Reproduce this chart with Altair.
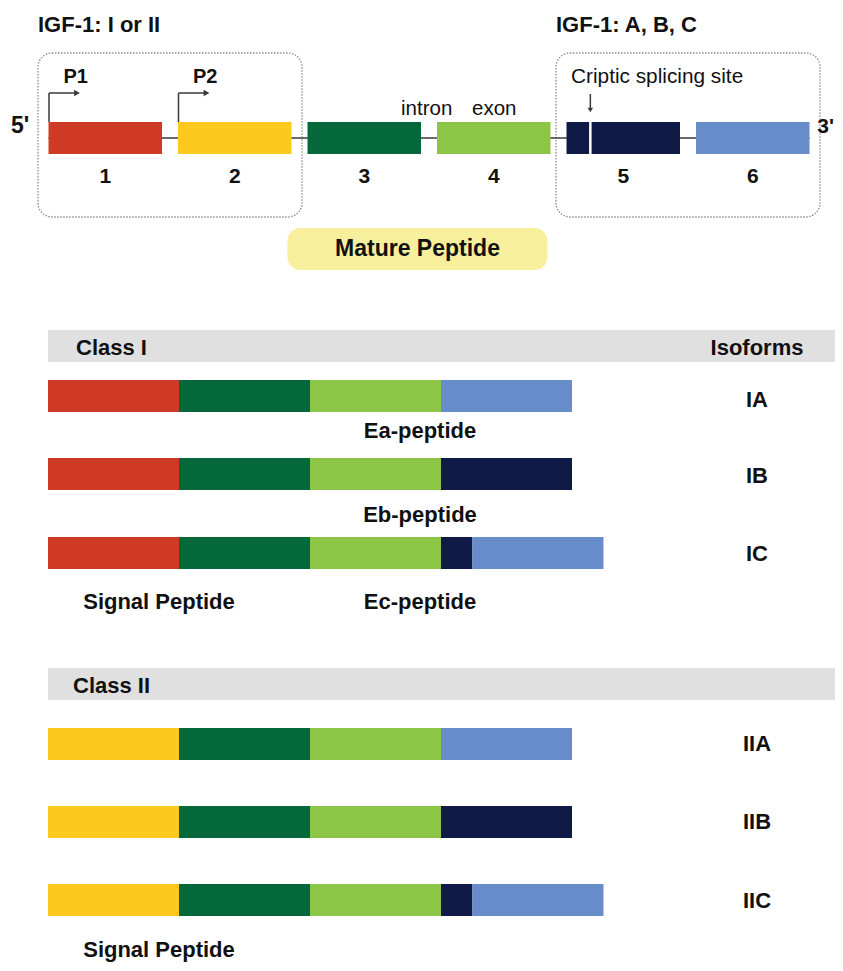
import altair as alt
import pandas as pd

# ------------------------------------------------------------------ data
exon_ids = ["1", "2", "3", "4", "5", "6"]
exon_colors = ["#CF3A27", "#FDC91E", "#05683A", "#8DC646", "#0F1A47", "#668CC9"]
exon_units = [1, 1, 1, 1, 1, 1]

group_titles = ["IGF-1: I or II", "IGF-1: A, B, C"]
group_exons = [["1", "2"], ["5", "6"]]
promoters = ["P1", "P2"]
promoter_exon = ["1", "2"]
cryptic_label = "Criptic splicing site"
cryptic_exon = "5"
cryptic_fraction = 0.21
mature_label = "Mature Peptide"
mature_exons = ["3", "4"]

class_titles = ["Class I", "Class II"]
class_isoforms = [["IA", "IB", "IC"], ["IIA", "IIB", "IIC"]]
class_signal_exon = ["1", "2"]
isoform_exons = [["S", "3", "4", "6"], ["S", "3", "4", "5"], ["S", "3", "4", "5", "6"]]
isoform_units = [[1, 1, 1, 1], [1, 1, 1, 1], [1, 1, 1, 0.24, 1]]
e_peptides = ["Ea-peptide", "Eb-peptide", "Ec-peptide"]
signal_label = "Signal Peptide"
isoform_header = "Isoforms"

# ------------------------------------------------------------------ layout
FONT = "Liberation Sans"
INK = "#111111"
LINE = "#3a3a3a"
GENE_X0, EXON_PX, INTRON_PX = 48.5, 113.5, 16.0
GENE_Y, BAR_H = 122.0, 32.0
ISO_X0, ISO_UNIT = 48.0, 131.0
BAND_TOP = [330.0, 668.0]
BAND_H = 32.0
ROW_TOP = [[380.0, 458.0, 537.0], [728.0, 806.0, 884.0]]
color_of = dict(zip(exon_ids, exon_colors))

xs = alt.Scale(domain=[8, 835], nice=False, zero=False)
ys = alt.Scale(domain=[8, 963], nice=False, zero=False, reverse=True)

# gene exons
gene_rows = []
pos = GENE_X0
for eid, u in zip(exon_ids, exon_units):
    gene_rows.append(dict(exon=eid, x=pos, x2=pos + u * EXON_PX, y=GENE_Y, y2=GENE_Y + BAR_H,
                          fill=color_of[eid]))
    pos += u * EXON_PX + INTRON_PX
gx = {r["exon"]: (r["x"], r["x2"]) for r in gene_rows}

# isoform bars
iso_rows = []
for ci in range(2):
    for ri, (segs, units) in enumerate(zip(isoform_exons, isoform_units)):
        p = ISO_X0
        for s, u in zip(segs, units):
            eid = class_signal_exon[ci] if s == "S" else s
            iso_rows.append(dict(x=p, x2=p + u * ISO_UNIT, y=ROW_TOP[ci][ri],
                                 y2=ROW_TOP[ci][ri] + BAR_H, fill=color_of[eid]))
            p += u * ISO_UNIT
bars = pd.DataFrame(iso_rows + gene_rows)

# dotted group boxes
box_rows = []
for ex in group_exons:
    box_rows.append(dict(x=gx[ex[0]][0] - 10.5, x2=gx[ex[-1]][1] + 10.5, y=53.0, y2=217.0))
boxes = pd.DataFrame(box_rows)

mx0, mx1 = gx[mature_exons[0]][0] - 20, gx[mature_exons[-1]][1] - 3
mature = pd.DataFrame([dict(x=mx0, x2=mx1, y=228.0, y2=270.0)])
bands = pd.DataFrame([dict(x=ISO_X0, x2=843.0, y=t, y2=t + BAND_H) for t in BAND_TOP])

# lines (intron backbone, promoter arrows, cryptic arrow)
line_rows = [dict(x=gx["1"][0], x2=gx["6"][1], y=GENE_Y + BAR_H / 2, y2=GENE_Y + BAR_H / 2)]
tri_right = []
for pe in promoter_exon:
    x0 = gx[pe][0] + 0.5
    line_rows.append(dict(x=x0, x2=x0, y=GENE_Y, y2=93.0))
    line_rows.append(dict(x=x0, x2=x0 + 26, y=93.0, y2=93.0))
    tri_right.append(dict(x=x0 + 28, y=93.0))
cx = gx[cryptic_exon][0] + cryptic_fraction * EXON_PX
line_rows.append(dict(x=cx, x2=cx, y=94.0, y2=108.0))
lines = pd.DataFrame(line_rows)
tri_r = pd.DataFrame(tri_right)
tri_d = pd.DataFrame([dict(x=cx, y=110.0)])
white = pd.DataFrame([dict(x=cx, x2=cx, y=GENE_Y, y2=GENE_Y + BAR_H)])

# texts
left_bold = [
    dict(text=group_titles[0], x=box_rows[0]["x"], y=32, size=22),
    dict(text=group_titles[1], x=box_rows[1]["x"], y=32, size=22),
    dict(text="5'", x=11, y=133, size=23),
    dict(text=class_titles[0], x=76, y=355, size=22),
    dict(text=class_titles[1], x=73, y=693, size=22),
]
for p, pe in zip(promoters, promoter_exon):
    left_bold.append(dict(text=p, x=gx[pe][0] + 15, y=83, size=20))
right_bold = [dict(text="3'", x=834, y=133, size=21)]
left_reg = [
    dict(text="intron", x=401, y=115, size=20.5),
    dict(text="exon", x=472, y=115, size=20.5),
    dict(text=cryptic_label, x=box_rows[1]["x"] + 15, y=83, size=20.8),
]
center_bold = [dict(text=e, x=(gx[e][0] + gx[e][1]) / 2, y=183, size=21) for e in exon_ids]
center_bold.append(dict(text=mature_label, x=(mx0 + mx1) / 2, y=256, size=23))
center_bold.append(dict(text=isoform_header, x=757, y=355, size=22))
iso_base = [[407, 483, 561], [751, 829, 908]]
for ci in range(2):
    for ri, name in enumerate(class_isoforms[ci]):
        center_bold.append(dict(text=name, x=757, y=iso_base[ci][ri], size=22))
for lab, yb in zip(e_peptides, [438, 522, 609]):
    center_bold.append(dict(text=lab, x=420, y=yb, size=22))
center_bold.append(dict(text=signal_label, x=159, y=609, size=22))
center_bold.append(dict(text=signal_label, x=159, y=957, size=22))


def X(f="x"):
    return alt.X(f"{f}:Q", scale=xs, axis=None)


def Y(f="y"):
    return alt.Y(f"{f}:Q", scale=ys, axis=None)


def rect_layer(df, **mk):
    return alt.Chart(df).mark_rect(**mk).encode(x=X(), x2="x2:Q", y=Y(), y2="y2:Q")


def text_layer(rows, align, weight):
    return alt.Chart(pd.DataFrame(rows)).mark_text(
        align=align, baseline="alphabetic", font=FONT, fontWeight=weight, color=INK
    ).encode(x=X(), y=Y(), text="text:N", size=alt.Size("size:Q", scale=None))


layers = [
    rect_layer(bands, fill="#E0E0E0"),
    rect_layer(boxes, fill="transparent", stroke="#8c8c8c", strokeWidth=1.3,
               strokeDash=[1.5, 1.5], cornerRadius=14),
    rect_layer(mature, fill="#F7EF9C", cornerRadius=13),
    alt.Chart(lines).mark_rule(color=LINE, strokeWidth=1.5).encode(x=X(), x2="x2:Q", y=Y(), y2="y2:Q"),
    alt.Chart(bars).mark_rect().encode(x=X(), x2="x2:Q", y=Y(), y2="y2:Q",
                                       fill=alt.Fill("fill:N", scale=None)),
    alt.Chart(white).mark_rule(color="white", strokeWidth=2.5).encode(x=X(), x2="x2:Q", y=Y(), y2="y2:Q"),
    alt.Chart(tri_r).mark_point(shape="triangle-right", filled=True, size=45, color=LINE, opacity=1)
    .encode(x=X(), y=Y()),
    alt.Chart(tri_d).mark_point(shape="triangle-down", filled=True, size=30, color=LINE, opacity=1)
    .encode(x=X(), y=Y()),
    text_layer(left_bold, "left", "bold"),
    text_layer(right_bold, "right", "bold"),
    text_layer(left_reg, "left", "normal"),
    text_layer(center_bold, "center", "bold"),
]

chart = alt.layer(*layers).properties(
    width=827, height=955, padding=0, background="white",
    autosize=alt.AutoSizeParams(type="none"),
).configure_view(stroke=None)

chart.save("out.html", embed_options={"renderer": "svg", "actions": False})
